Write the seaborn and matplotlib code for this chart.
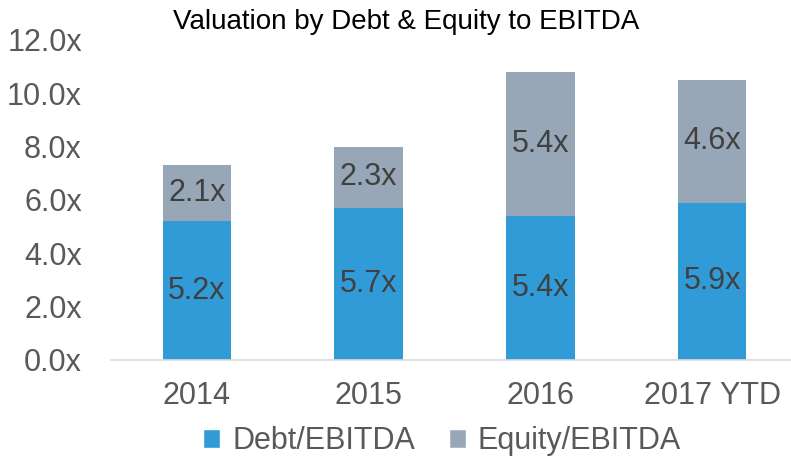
import matplotlib
matplotlib.use("Agg")
import matplotlib.pyplot as plt
import seaborn as sns
import pandas as pd
from matplotlib.patches import Patch

# values
years = ["2014", "2015", "2016", "2017 YTD"]
debt_ebitda = [5.2, 5.7, 5.4, 5.9]
equity_ebitda = [2.1, 2.3, 5.4, 4.6]
y_ticks = [0, 2, 4, 6, 8, 10, 12]

DEBT_COLOR = "#319BD7"
EQUITY_COLOR = "#98A7B7"
LABEL_COLOR = "#404040"
TICK_COLOR = "#595959"

sns.set_style("white")
plt.rcParams["font.family"] = ["Liberation Sans", "DejaVu Sans"]

df = pd.DataFrame({"Year": years, "Debt": debt_ebitda, "Equity": equity_ebitda})
df["Total"] = df["Debt"] + df["Equity"]

fig = plt.figure(figsize=(7.91, 4.58), dpi=100)
ax = fig.add_axes([111 / 791, 0.214, 687 / 791, 0.6987])

# stacked look: total bar in grey, debt drawn over it
sns.barplot(data=df, x="Year", y="Total", color=EQUITY_COLOR, width=0.4,
            saturation=1, linewidth=0, ax=ax)
sns.barplot(data=df, x="Year", y="Debt", color=DEBT_COLOR, width=0.4,
            saturation=1, linewidth=0, ax=ax)

for i, (d, e) in enumerate(zip(debt_ebitda, equity_ebitda)):
    ax.text(i, d / 2, f"{d:.1f}x", ha="center", va="center",
            fontsize=22, color=LABEL_COLOR)
    ax.text(i, d + e / 2, f"{e:.1f}x", ha="center", va="center",
            fontsize=22, color=LABEL_COLOR)

ax.set_ylim(0, 12)
ax.set_xlim(-0.5, 3.5)
ax.set_yticks(y_ticks)
ax.set_yticklabels([f"{v:.1f}x" for v in y_ticks])
ax.set_xlabel("")
ax.set_ylabel("")
ax.tick_params(axis="both", length=0, labelsize=22, labelcolor=TICK_COLOR)
ax.tick_params(axis="y", pad=21)
ax.tick_params(axis="x", pad=15)

for side in ["top", "right", "left"]:
    ax.spines[side].set_visible(False)
ax.spines["bottom"].set_color("#D9D9D9")
ax.spines["bottom"].set_linewidth(1.2)

fig.text(406 / 791, 1 - 22 / 458, "Valuation by Debt & Equity to EBITDA",
         ha="center", va="center", fontsize=20, color="black")

handles = [Patch(facecolor=DEBT_COLOR, label="Debt/EBITDA"),
           Patch(facecolor=EQUITY_COLOR, label="Equity/EBITDA")]
fig.legend(handles=handles, loc="center", bbox_to_anchor=(442 / 791, 1 - 441 / 458),
           ncol=2, frameon=False, fontsize=22, handlelength=0.56, handleheight=0.56,
           handletextpad=0.4, columnspacing=1.1, labelcolor=TICK_COLOR,
           borderpad=0, borderaxespad=0)

fig.savefig("out.png", dpi=100)
